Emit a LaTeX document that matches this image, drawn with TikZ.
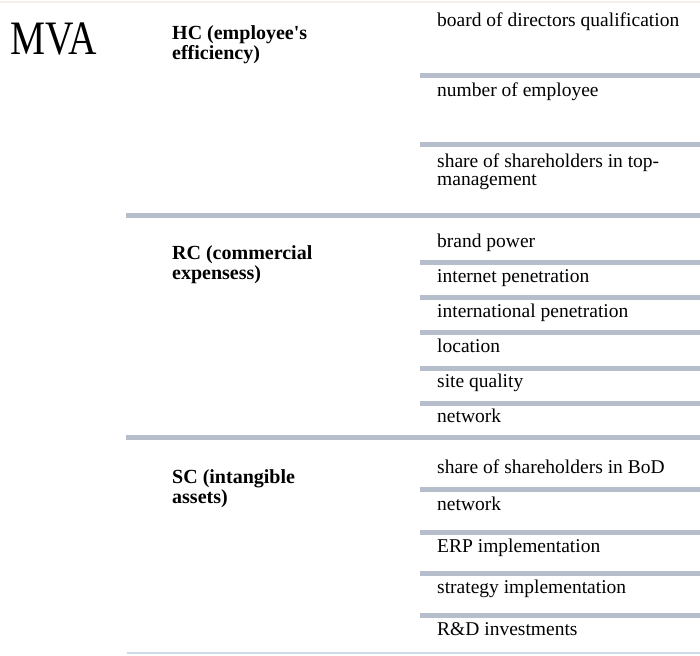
\documentclass[tikz,border=0pt]{standalone}
\usepackage{fontspec}
\setmainfont{Liberation Serif}
\usepackage{xcolor}
\definecolor{barblue}{RGB}{182,190,204}
\definecolor{lineblue}{RGB}{205,218,232}
\definecolor{topline}{RGB}{246,241,232}
\tikzset{>=latex}

\begin{document}
\begin{tikzpicture}[x=1pt, y=-1pt,
    every node/.style={inner sep=0pt, anchor=base west, align=left},
    item/.style={font=\fontsize{19.5}{22}\selectfont},
    capital/.style={font=\fontsize{20}{20}\selectfont\bfseries},
    bar/.style={draw=barblue, line width=5pt},
    shortbar/.style={bar}]
    \useasboundingbox (0,0) rectangle (700,655);

    % Nodes (two-line nodes sit on the baseline of their last line)
    \node (MVA) [font=\fontsize{48}{48}\selectfont, xscale=0.82, transform shape] at (10,55) {MVA};

    \node (HC) [capital] at (172,60) {HC (employee\textquotesingle s\\efficiency)};
    \node (RC) [capital] at (172,279) {RC (commercial\\expensess)};
    \node (SC) [capital] at (172,503) {SC (intangible\\assets)};

    \node (hc1) [item] at (437,27)  {board of directors qualification};
    \node (hc2) [item] at (437,97)  {number of employee};
    \node (hc3) [item, font=\fontsize{19.5}{18}\selectfont] at (437,185) {share of shareholders in top-\\management};

    \node (rc1) [item] at (437,247) {brand power};
    \node (rc2) [item] at (437,282) {internet penetration};
    \node (rc3) [item] at (437,317) {international penetration};
    \node (rc4) [item] at (437,352) {location};
    \node (rc5) [item] at (437,387) {site quality};
    \node (rc6) [item] at (437,422) {network};

    \node (sc1) [item] at (437,473) {share of shareholders in BoD};
    \node (sc2) [item] at (437,510) {network};
    \node (sc3) [item] at (437,552) {ERP implementation};
    \node (sc4) [item] at (437,593) {strategy implementation};
    \node (sc5) [item] at (437,635) {R\&D investments};

    % Lines
    \draw[topline, line width=2pt] (0,2) -- (700,2);
    \foreach \y in {215,437}
        \draw[bar] (126,\y) -- (700,\y);
    \foreach \y in {76,145,262,297,332,368,403,489,532,573,615}
        \draw[shortbar] (420,\y) -- (700,\y);
    \draw[lineblue, line width=2pt] (127,653) -- (700,653);
\end{tikzpicture}
\end{document}
